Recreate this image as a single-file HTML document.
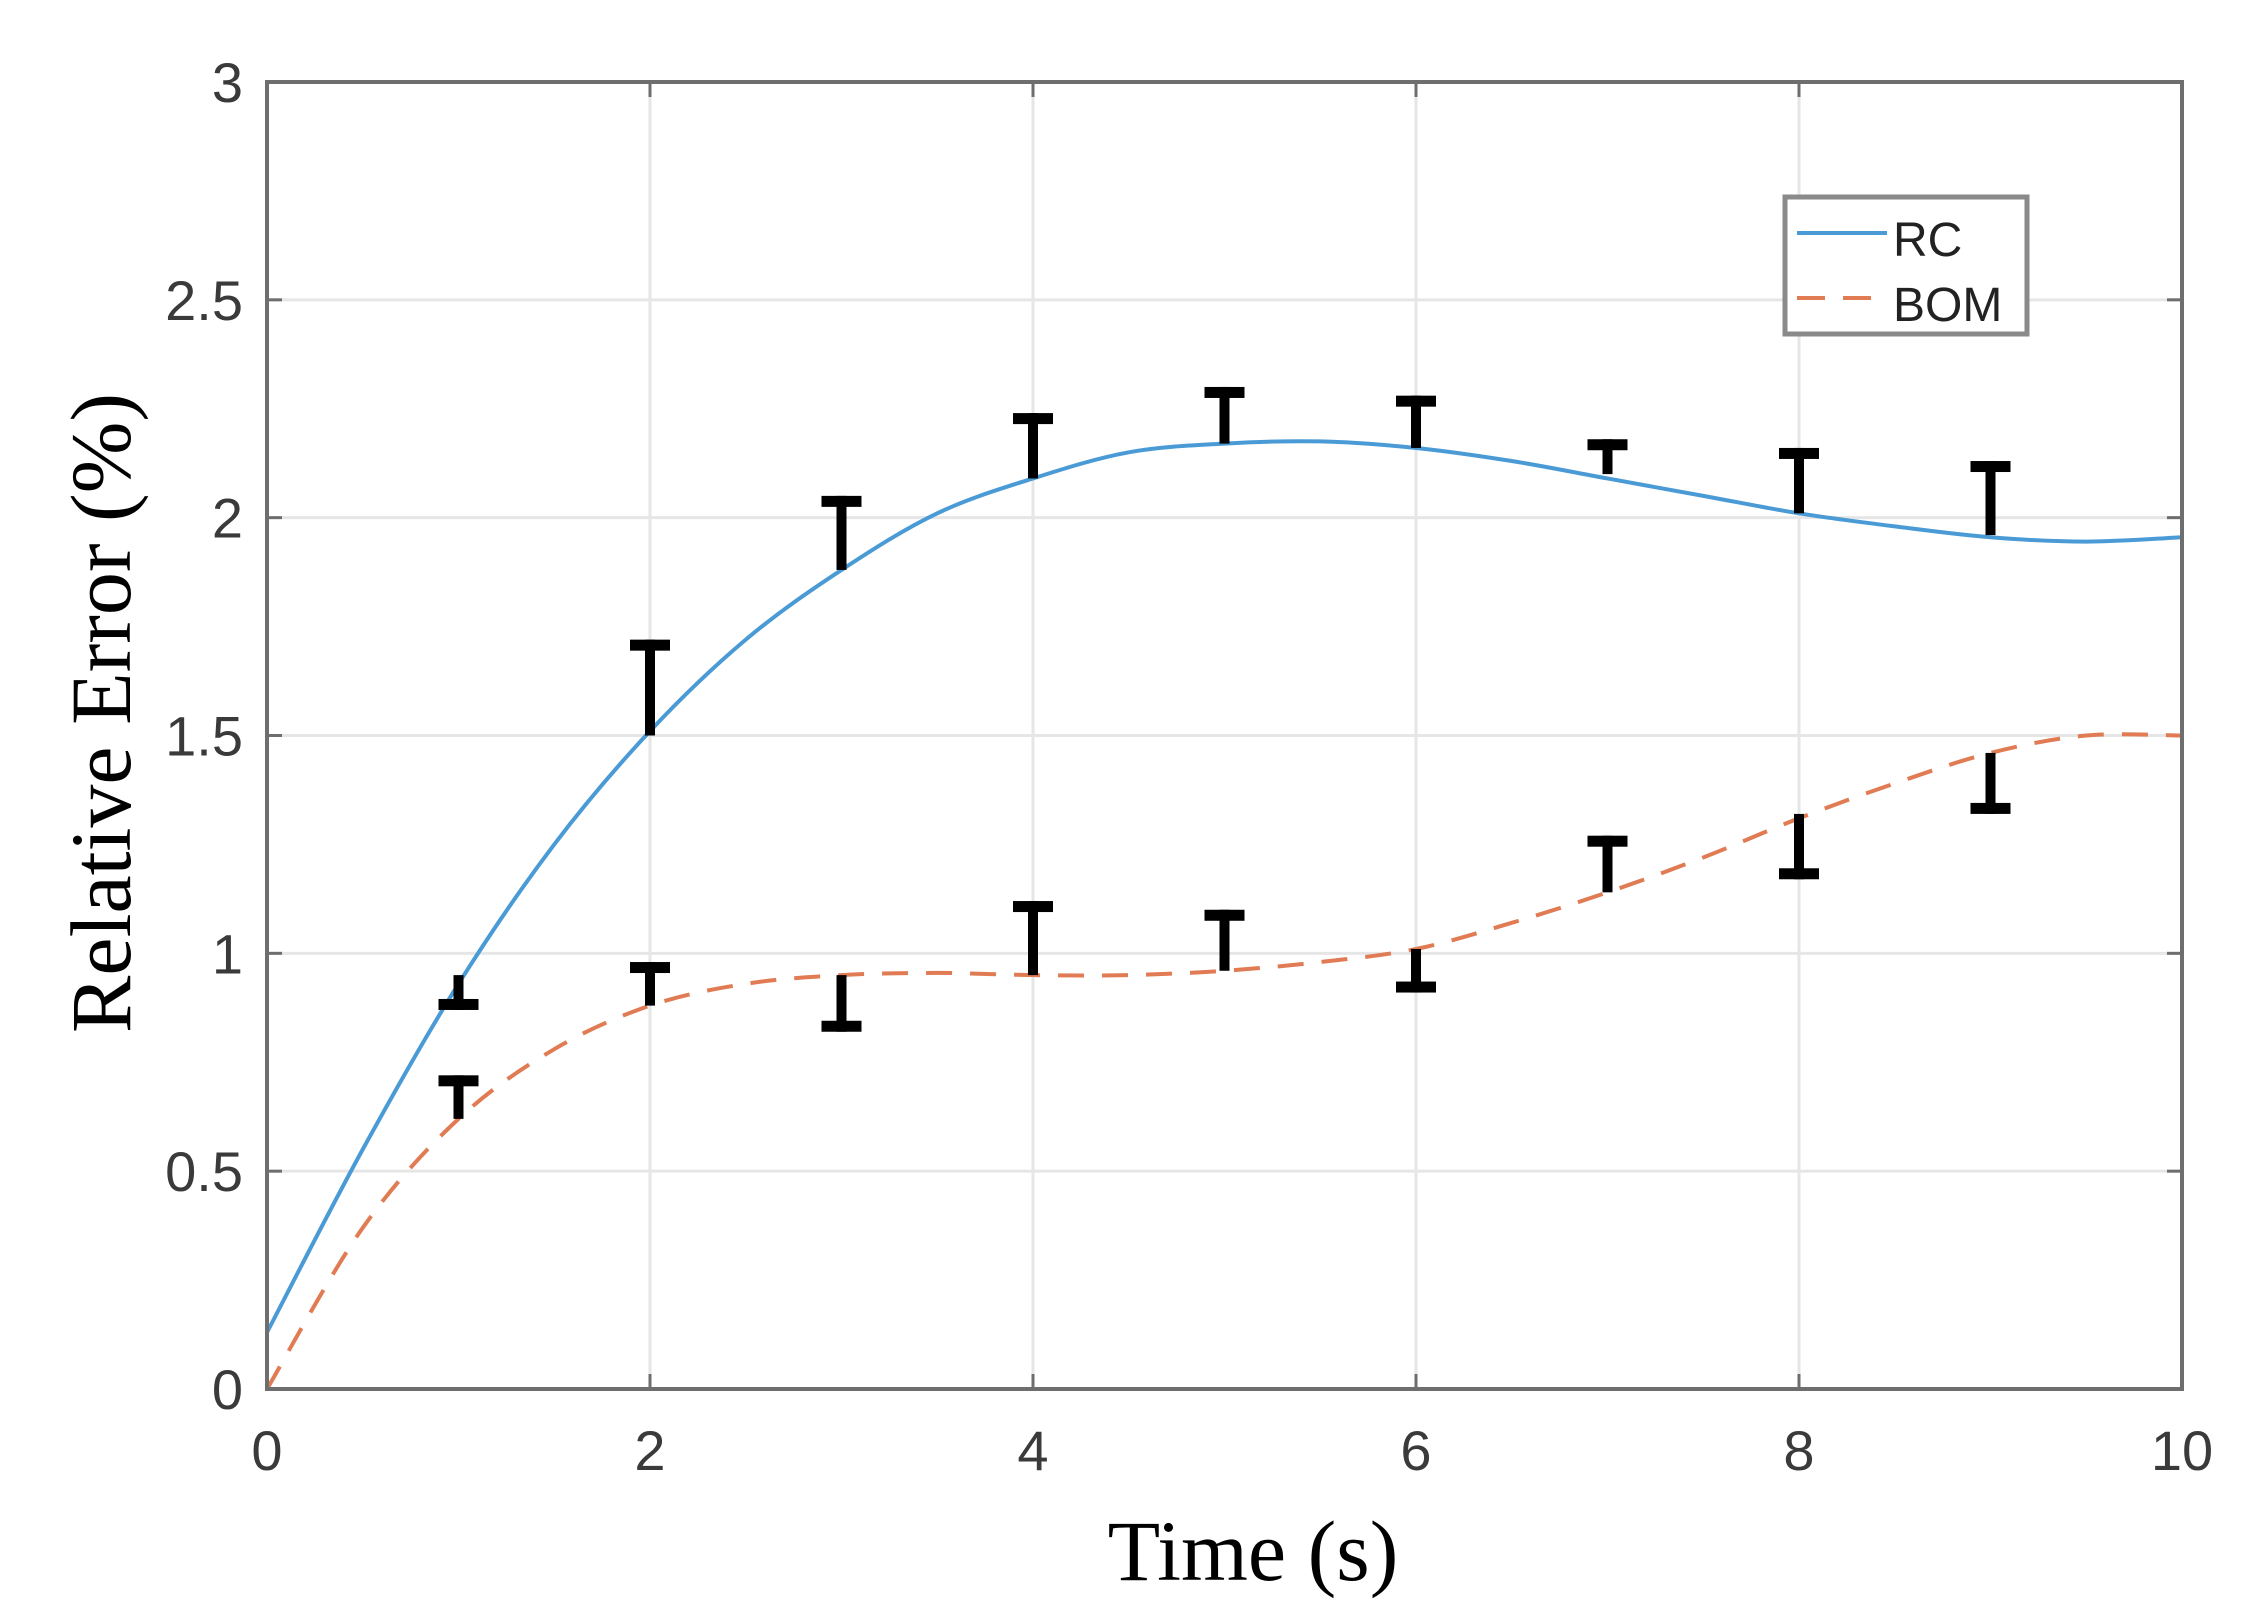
<!DOCTYPE html>
<html><head><meta charset="utf-8"><style>
html,body{margin:0;padding:0;background:#fff;}
svg{display:block;}
</style></head><body>
<svg id="s" width="2266" height="1615" viewBox="0 0 2266 1615" xmlns="http://www.w3.org/2000/svg">
<rect width="2266" height="1615" fill="#fff"/>
<g id="grid" stroke="#e6e6e6" stroke-width="3"></g>
<g id="ticks" stroke="#6e6e6e" stroke-width="3"></g>
<path id="rc" fill="none" stroke="#4a9ad6" stroke-width="4"/>
<path id="bom" fill="none" stroke="#e07b53" stroke-width="4" stroke-dasharray="26,18"/>
<g id="eb" fill="#000"></g>
<rect x="267" y="82" width="1915" height="1307" fill="none" stroke="#6e6e6e" stroke-width="4"/>
<g id="lab" font-family="Liberation Sans, sans-serif" font-size="56" fill="#3a3a3a"></g>
<text x="0" y="0" transform="translate(130,713) rotate(-90)" text-anchor="middle" font-family="Liberation Serif, serif" font-size="86" fill="#000">Relative Error (%)</text>
<text x="1253" y="1580" text-anchor="middle" font-family="Liberation Serif, serif" font-size="86" fill="#000">Time (s)</text>
<rect x="1785" y="197" width="242" height="137" fill="#fff" stroke="#8a8a8a" stroke-width="5"/>
<line x1="1797" y1="233" x2="1887" y2="233" stroke="#4a9ad6" stroke-width="4"/>
<line x1="1797" y1="298" x2="1887" y2="298" stroke="#e07b53" stroke-width="4" stroke-dasharray="28,18"/>
<text x="1893" y="256" font-family="Liberation Sans, sans-serif" font-size="48" fill="#222">RC</text>
<text x="1893" y="321" font-family="Liberation Sans, sans-serif" font-size="48" fill="#222">BOM</text>
</svg>
<script>
var L=267,R=2182,T=82,B=1389;
function X(t){return L+t*191.5;}function Y(v){return B-v*435.67;}
var ns="http://www.w3.org/2000/svg";
function el(p,n,a,txt){var e=document.createElementNS(ns,n);for(var k in a)e.setAttribute(k,a[k]);if(txt!=null)e.textContent=txt;document.getElementById(p).appendChild(e);}
for(var i=1;i<5;i++){el("grid","line",{x1:X(2*i),x2:X(2*i),y1:T,y2:B});}
for(var j=1;j<6;j++){el("grid","line",{x1:L,x2:R,y1:Y(j*0.5),y2:Y(j*0.5)});}
for(var i=0;i<=5;i++){el("ticks","line",{x1:X(2*i),x2:X(2*i),y1:B,y2:B-15});el("ticks","line",{x1:X(2*i),x2:X(2*i),y1:T,y2:T+15});
 el("lab","text",{x:X(2*i),y:1470,"text-anchor":"middle"},String(2*i));}
var yl=["0","0.5","1","1.5","2","2.5","3"];
for(var j=0;j<=6;j++){el("ticks","line",{x1:L,x2:L+15,y1:Y(j*0.5),y2:Y(j*0.5)});el("ticks","line",{x1:R,x2:R-15,y1:Y(j*0.5),y2:Y(j*0.5)});
 el("lab","text",{x:243,y:Y(j*0.5)+20,"text-anchor":"end"},yl[j]);}
function path(vals){var p=vals.map(function(v,i){return [X(i*0.5),Y(v)];});var d="M"+p[0][0]+","+p[0][1];
 for(var i=0;i<p.length-1;i++){var p0=p[Math.max(i-1,0)],p1=p[i],p2=p[i+1],p3=p[Math.min(i+2,p.length-1)];
 d+=" C"+(p1[0]+(p2[0]-p0[0])/6)+","+(p1[1]+(p2[1]-p0[1])/6)+" "+(p2[0]-(p3[0]-p1[0])/6)+","+(p2[1]-(p3[1]-p1[1])/6)+" "+p2[0]+","+p2[1];}return d;}
var rc=[0.13,0.55,0.93,1.25,1.51,1.72,1.88,2.01,2.09,2.15,2.17,2.175,2.16,2.13,2.09,2.05,2.01,1.98,1.955,1.945,1.955];
var bom=[0,0.37,0.62,0.78,0.88,0.93,0.95,0.955,0.95,0.95,0.96,0.98,1.01,1.07,1.14,1.22,1.31,1.39,1.46,1.50,1.50];
document.getElementById("rc").setAttribute("d",path(rc));
document.getElementById("bom").setAttribute("d",path(bom));
var eb=[[1,0.87,0.95,0],[2,1.50,1.72,1],[3,1.88,2.05,1],[4,2.09,2.24,1],[5,2.17,2.30,1],[6,2.16,2.28,1],[7,2.10,2.18,1],[8,2.01,2.16,1],[9,1.96,2.13,1],
[1,0.62,0.72,1],[2,0.88,0.98,1],[3,0.82,0.95,0],[4,0.95,1.12,1],[5,0.96,1.10,1],[6,0.91,1.01,0],[7,1.14,1.27,1],[8,1.17,1.32,0],[9,1.32,1.46,0]];
eb.forEach(function(e){var x=X(e[0]),y1=Y(e[2]),y2=Y(e[1]);
 el("eb","rect",{x:x-5,y:y1,width:10,height:y2-y1});
 var cy=e[3]?y1:y2-11;el("eb","rect",{x:x-20,y:cy,width:40,height:11});});
</script>
</body></html>
